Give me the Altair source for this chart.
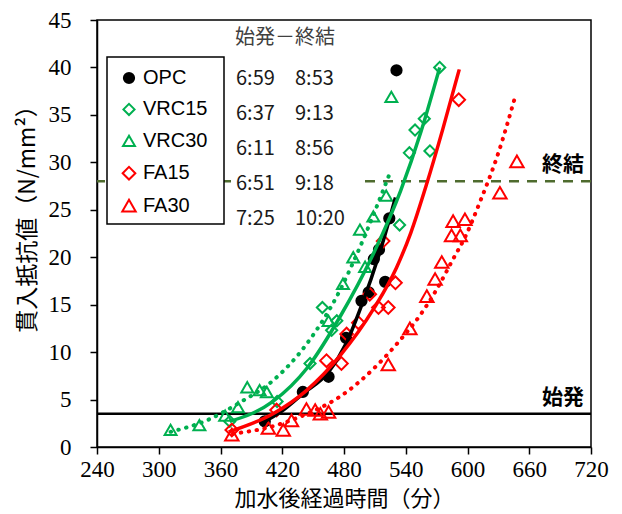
import altair as alt
import pandas as pd

# ---------------- data ----------------
series_names = ["OPC", "VRC15", "VRC30", "FA15", "FA30"]
series_colors = ["#000000", "#00B050", "#00B050", "#FF0000", "#FF0000"]
series_fills = ["#000000", "transparent", "transparent", "transparent", "transparent"]
series_shapes = ["circle", "diamond", "triangle-up", "diamond", "triangle-up"]
series_sizes = [105, 180, 200, 180, 200]

opc_x = [403, 440, 465, 482, 497, 504, 509, 514, 520, 524, 531]
opc_y = [2.7, 5.8, 7.4, 11.5, 15.4, 16.3, 19.8, 20.8, 17.4, 24.1, 39.7]

vrc15_x = [369, 415, 447, 459, 468, 473, 534, 543.5, 549, 563.5, 558, 573]
vrc15_y = [2.7, 4.8, 8.8, 14.7, 12.3, 13.3, 23.4, 31.0, 33.4, 31.2, 34.6, 40.0]

vrc30_x = [311.5, 339.5, 364.5, 377, 386, 398, 405, 465, 479, 489, 500.5, 495.5, 508.5, 521, 526]
vrc30_y = [1.8, 2.3, 3.3, 4.2, 6.3, 6.0, 5.8, 13.3, 17.2, 20.0, 19.0, 22.9, 24.3, 26.5, 36.9]

fa15_x = [371, 414.5, 463, 477.5, 482.5, 494, 505, 513.5, 523, 530, 518, 591.5]
fa15_y = [1.8, 3.9, 9.1, 8.8, 11.9, 13.1, 16.1, 14.7, 14.7, 17.3, 21.7, 36.6]

fa30_x = [371, 406.5, 421, 429, 443.5, 452, 457, 465, 523, 544, 560.5, 568.5, 575,
          584.5, 586, 593, 597.5, 631.5, 648]
fa30_y = [1.3, 2.0, 1.8, 2.8, 4.0, 3.9, 3.5, 3.7, 8.7, 12.5, 15.9, 17.7, 19.5,
          22.3, 23.8, 22.3, 24.0, 26.8, 30.1]

# trend curves, points
opc_curve_x = [400, 420, 440, 465, 482, 497, 515, 530]
opc_curve_y = [2.5, 3.8, 5.6, 7.9, 10.9, 14.9, 20.6, 26.3]
vrc15_curve_x = [369, 411, 444, 476, 510, 535, 555, 573]
vrc15_curve_y = [2.7, 4.8, 8.3, 13.7, 20.7, 27.0, 33.3, 40.0]
vrc30_curve_x = [311.5, 346.5, 379, 411, 444, 476, 492, 524]
vrc30_curve_y = [1.6, 2.8, 4.7, 7.0, 10.9, 16.5, 20.2, 28.7]
fa15_curve_x = [368, 411, 444, 476, 509, 531, 545, 560, 576, 592]
fa15_curve_y = [1.6, 3.5, 6.0, 9.6, 14.6, 18.9, 22.6, 27.6, 33.5, 39.8]
fa30_curve_x = [372, 408, 444, 476, 512, 534, 554, 570, 586, 598, 612, 630, 646]
fa30_curve_y = [1.4, 2.1, 3.5, 5.3, 8.6, 11.2, 13.9, 16.6, 19.8, 22.2, 25.8, 31.0, 36.8]

threshold_values = [3.5, 28]
threshold_labels = ["始発", "終結"]

times_header = "始発－終結"
start_times = ["6:59", "6:37", "6:11", "6:51", "7:25"]
end_times = ["8:53", "9:13", "8:56", "9:18", "10:20"]

x_ticks = [240, 300, 360, 420, 480, 540, 600, 660, 720]
y_ticks = [0, 5, 10, 15, 20, 25, 30, 35, 40, 45]

# ---------------- tables ----------------
pt_rows = []
for name, xs, ys in zip(series_names,
                        [opc_x, vrc15_x, vrc30_x, fa15_x, fa30_x],
                        [opc_y, vrc15_y, vrc30_y, fa15_y, fa30_y]):
    for a, b in zip(xs, ys):
        pt_rows.append({"series": name, "t": a, "p": b})
pts = pd.DataFrame(pt_rows)

curves = [
    (opc_curve_x, opc_curve_y, "#000000", None),
    (vrc15_curve_x, vrc15_curve_y, "#00B050", None),
    (vrc30_curve_x, vrc30_curve_y, "#00B050", [0.5, 7.5]),
    (fa15_curve_x, fa15_curve_y, "#FF0000", None),
    (fa30_curve_x, fa30_curve_y, "#FF0000", [0.5, 7.5]),
]

W, H = 494, 427

X = alt.X("t:Q", scale=alt.Scale(domain=[240, 720], nice=False, zero=False),
          axis=alt.Axis(values=x_ticks, title="加水後経過時間（分）",
                        titleFontSize=22, titleX=W / 2, titleY=51,
                        titleBaseline="middle", labelPadding=4,
                        labelFlush=False))
Y = alt.Y("p:Q", scale=alt.Scale(domain=[0, 45], nice=False),
          axis=alt.Axis(values=y_ticks, title="貫入抵抗値（N/mm²）",
                        titleFontSize=23, titleX=-70, titleY=193,
                        titleBaseline="middle", labelPadding=19,
                        labelFlush=False))

legend = alt.Legend(title=None, orient="none", legendX=22, legendY=48,
                    padding=0, rowPadding=11.4, labelFontSize=20,
                    labelFont="Liberation Sans", labelColor="black",
                    symbolStrokeWidth=2, labelOffset=4)

thr = pd.DataFrame({"p": threshold_values, "label": threshold_labels})

dashed_rule = alt.Chart(thr.iloc[[1]]).mark_rule(
    color="#4E6B2E", strokeWidth=2.5, strokeDash=[10, 8]).encode(y=Y)
solid_rule = alt.Chart(thr.iloc[[0]]).mark_rule(
    color="black", strokeWidth=2.5).encode(y=Y)

legend_frame = alt.Chart(pd.DataFrame({"k": [0]})).mark_rect(
    fill="white", stroke="black", strokeWidth=1.5).encode(
    x=alt.value(10), x2=alt.value(127), y=alt.value(37), y2=alt.value(204))

text_bg = alt.Chart(pd.DataFrame({"k": [0]})).mark_rect(color="white").encode(
    x=alt.value(135), x2=alt.value(260), y=alt.value(2), y2=alt.value(212))

head = alt.Chart(pd.DataFrame({"s": [times_header]})).mark_text(
    font="Noto Sans CJK JP", fontSize=20, color="#404040", align="center",
    baseline="middle").encode(text="s:N", x=alt.value(188), y=alt.value(18))

col1 = alt.Chart(pd.DataFrame({"s": ["\n".join(start_times)]})).mark_text(
    font="Noto Sans CJK JP", fontSize=20, color="#1a1a1a", align="left",
    baseline="alphabetic", lineBreak="\n", lineHeight=35).encode(
    text="s:N", x=alt.value(139), y=alt.value(65))
col2 = alt.Chart(pd.DataFrame({"s": ["\n".join(end_times)]})).mark_text(
    font="Noto Sans CJK JP", fontSize=20, color="#1a1a1a", align="left",
    baseline="alphabetic", lineBreak="\n", lineHeight=35).encode(
    text="s:N", x=alt.value(198), y=alt.value(65))

points = alt.Chart(pts).mark_point(strokeWidth=2, opacity=1).encode(
    x=X, y=Y,
    color=alt.Color("series:N", scale=alt.Scale(domain=series_names, range=series_colors), legend=legend),
    fill=alt.Fill("series:N", scale=alt.Scale(domain=series_names, range=series_fills), legend=legend),
    shape=alt.Shape("series:N", scale=alt.Scale(domain=series_names, range=series_shapes), legend=legend),
    size=alt.Size("series:N", scale=alt.Scale(domain=series_names, range=series_sizes), legend=legend),
)

line_layers = []
for cx, cy, col, dash in curves:
    df = pd.DataFrame({"t": cx, "p": cy})
    if dash is None:
        m = alt.Chart(df).mark_line(color=col, strokeWidth=3.5, interpolate="monotone")
    else:
        m = alt.Chart(df).mark_line(color=col, strokeWidth=4, strokeDash=dash,
                                    strokeCap="round", interpolate="monotone")
    line_layers.append(m.encode(x=X, y=Y))

thr_text = alt.Chart(thr).mark_text(
    font="Noto Sans CJK JP", fontSize=21, fontWeight="bold", color="black",
    align="right", baseline="alphabetic", dy=-10).encode(
    text="label:N", x=alt.value(W - 7), y=Y)

chart = alt.layer(
    dashed_rule, legend_frame, text_bg, head, col1, col2, solid_rule, points,
    *line_layers, thr_text
).properties(
    width=W, height=H,
    autosize=alt.AutoSizeParams(type="none"),
    padding={"left": 89, "top": 12, "right": 23, "bottom": 65},
).configure_view(
    stroke="black", strokeWidth=1.5
).configure_axis(
    grid=False, domainColor="black", domainWidth=1.5, tickColor="black",
    tickWidth=1.5, tickSize=7, labelFont="Liberation Sans Narrow",
    labelFontSize=23, labelColor="black", titleFont="Noto Sans CJK JP",
    titleFontWeight="normal", titleColor="black"
)

chart.save("out.html", embed_options={"renderer": "svg", "actions": False})
